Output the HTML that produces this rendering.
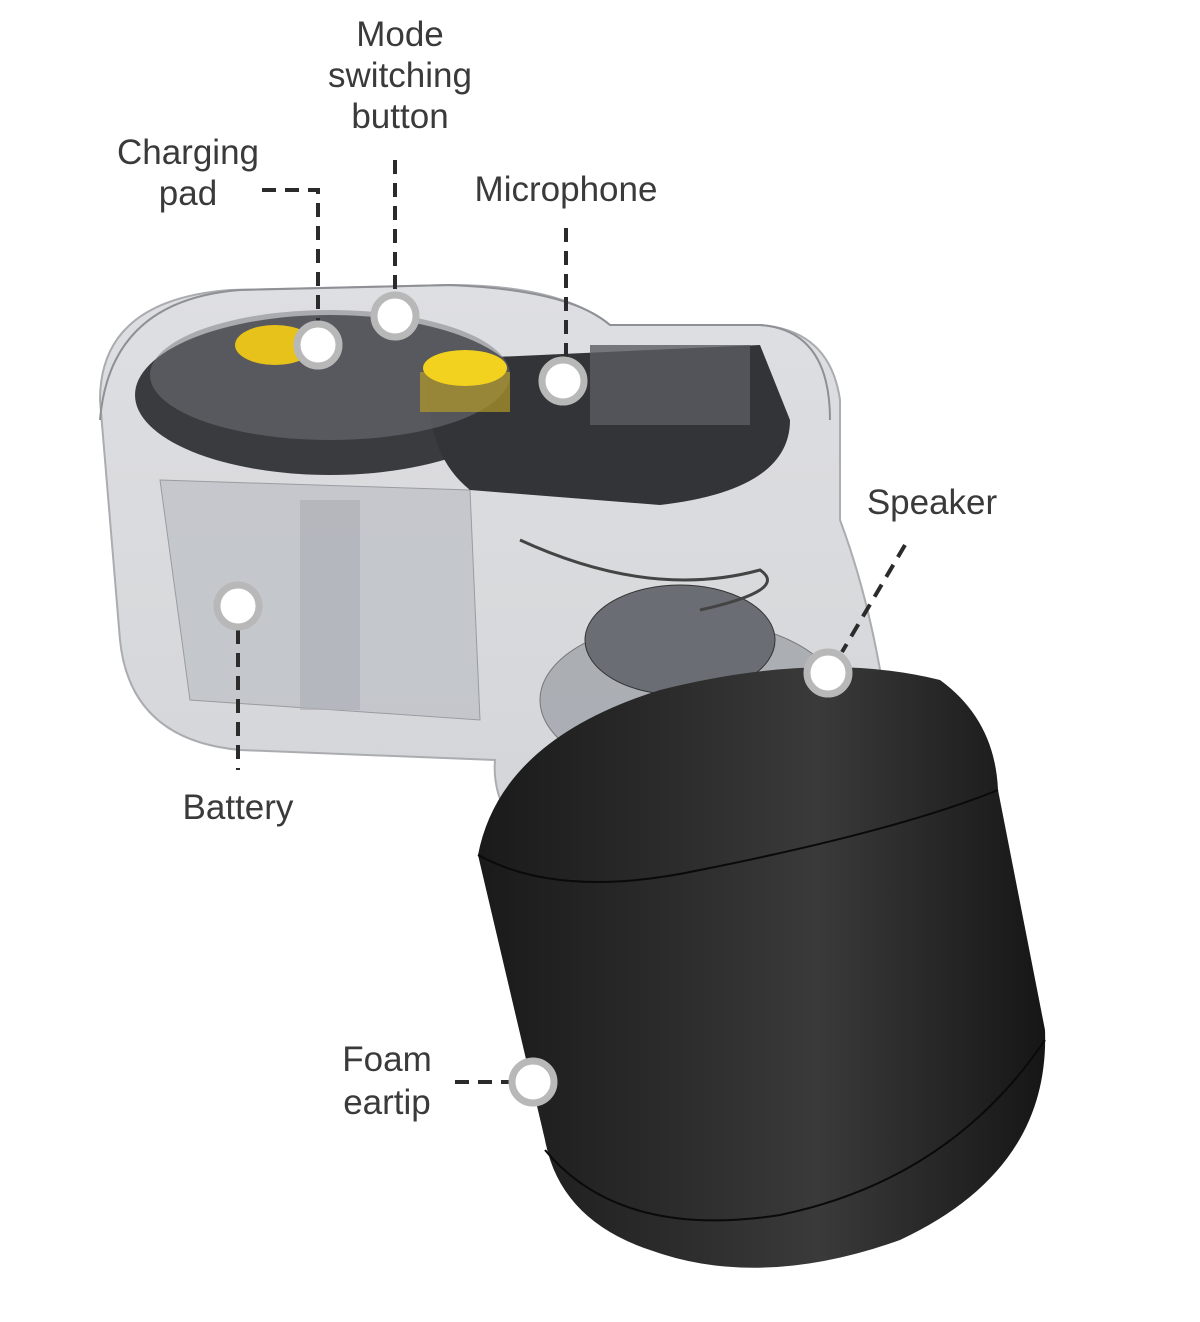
<!DOCTYPE html>
<html><head><meta charset="utf-8"><style>
html,body{margin:0;padding:0;background:#fff;}
svg{display:block}
text{font-family:"Liberation Sans",sans-serif;font-size:35px;fill:#3a3a3a;text-anchor:middle}
</style></head><body>
<svg width="1200" height="1322" viewBox="0 0 1200 1322" xmlns="http://www.w3.org/2000/svg">
<defs>
<linearGradient id="blk" x1="0" x2="1" y1="0" y2="0">
<stop offset="0" stop-color="#1a1a1a"/><stop offset="0.35" stop-color="#2c2c2c"/><stop offset="0.6" stop-color="#3a3a3a"/><stop offset="1" stop-color="#161616"/>
</linearGradient>
<linearGradient id="shell" x1="0" x2="0" y1="0" y2="1">
<stop offset="0" stop-color="#dcdde0"/><stop offset="1" stop-color="#cfd1d5"/>
</linearGradient>
</defs>
<!-- body shell -->
<path d="M100 400 Q100 300 230 290 L450 285 Q560 285 610 325 L760 325 Q830 330 840 400 L840 520 Q870 600 885 700 L870 830 Q700 900 560 870 Q490 820 495 760 L240 750 Q130 740 120 640 Z" fill="url(#shell)" stroke="#a4a6aa" stroke-width="2" opacity="0.92"/>
<!-- battery area -->
<path d="M160 480 L470 490 L480 720 L190 700 Z" fill="#c0c3c8" stroke="#8a8d92" opacity="0.8"/>
<rect x="300" y="500" width="60" height="210" fill="#aeb1b7" opacity="0.7"/>
<!-- speaker assembly -->
<ellipse cx="690" cy="700" rx="150" ry="80" fill="#a4a8ae" stroke="#666" opacity="0.85"/>
<ellipse cx="680" cy="640" rx="95" ry="55" fill="#6a6e74" stroke="#333"/>
<path d="M520 540 Q650 600 760 570 Q790 590 700 610" fill="none" stroke="#444" stroke-width="3"/>
<!-- top PCB -->
<ellipse cx="330" cy="395" rx="195" ry="80" fill="#3a3b3e"/>
<path d="M430 360 L760 345 L790 420 Q790 490 660 505 L470 490 Q420 450 430 360 Z" fill="#333438"/>
<ellipse cx="330" cy="375" rx="180" ry="65" fill="#75787d" opacity="0.5"/>
<rect x="590" y="345" width="160" height="80" fill="#5a5d62" opacity="0.8"/>
<!-- gold pads -->
<ellipse cx="275" cy="345" rx="40" ry="20" fill="#e6c21a"/>
<rect x="420" y="372" width="90" height="40" fill="#b49a2a" opacity="0.7"/>
<ellipse cx="465" cy="368" rx="42" ry="18" fill="#f3d21f"/>
<path d="M100 420 Q110 300 240 290 L450 285 Q570 290 610 325 L760 325 Q830 330 830 420" fill="none" stroke="#8e9095" stroke-width="2"/>
<!-- foam eartip cylinder -->
<path d="M478 855 Q500 740 660 690 Q820 650 940 680 Q995 720 998 790 L1045 1030 Q1050 1170 900 1240 Q760 1290 650 1250 Q560 1220 545 1140 Z" fill="url(#blk)"/>
<path d="M478 855 Q560 900 700 870 Q900 830 998 790" fill="none" stroke="#0a0a0a" stroke-width="2"/>
<path d="M545 1150 Q620 1240 780 1215 Q950 1180 1045 1040" fill="none" stroke="#0a0a0a" stroke-width="2"/>
<!-- dashed leaders -->
<g stroke="#2b2b2b" stroke-width="4" stroke-dasharray="14 9" fill="none">
<path d="M262 190 L318 190 L318 322"/>
<path d="M395 160 L395 292"/>
<path d="M566 228 L566 358"/>
<path d="M238 630 L238 770"/>
<path d="M905 545 L842 652"/>
<path d="M455 1082 L510 1082"/>
</g>
<!-- markers -->
<g fill="#fff" stroke="#b8b8b8" stroke-width="7">
<circle cx="318" cy="345" r="21"/>
<circle cx="395" cy="316" r="21"/>
<circle cx="563" cy="381" r="21"/>
<circle cx="238" cy="606" r="21"/>
<circle cx="828" cy="673" r="21"/>
<circle cx="533" cy="1082" r="21"/>
</g>
<!-- labels -->
<text x="400" y="46">Mode</text>
<text x="400" y="87">switching</text>
<text x="400" y="128">button</text>
<text x="188" y="164">Charging</text>
<text x="188" y="205">pad</text>
<text x="566" y="201">Microphone</text>
<text x="932" y="514">Speaker</text>
<text x="238" y="819">Battery</text>
<text x="387" y="1071">Foam</text>
<text x="387" y="1114">eartip</text>
</svg>
</body></html>
